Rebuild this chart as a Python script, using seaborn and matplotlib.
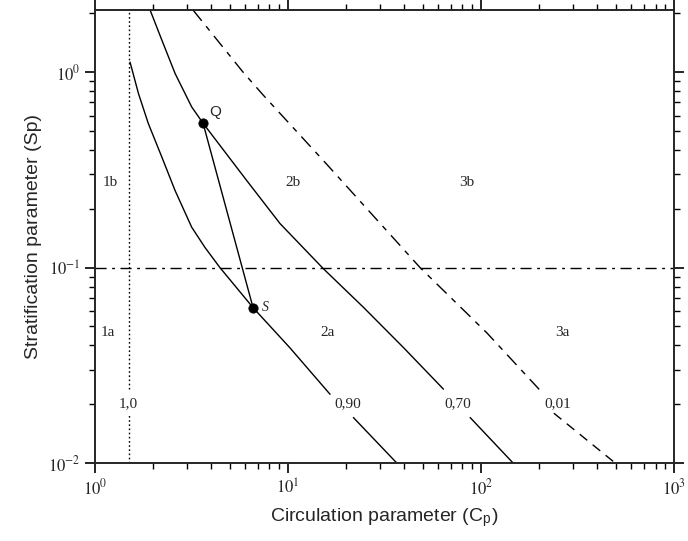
import numpy as np
import pandas as pd
import matplotlib
matplotlib.use("Agg")
import matplotlib.pyplot as plt
from matplotlib.ticker import NullFormatter
import seaborn as sns

# ---- data ----
c90_x = [1.52, 1.68, 1.89, 2.22, 2.60, 3.17, 3.71, 4.44, 6.59, 10.2, 16.5]
c90_y = [1.125, 0.778, 0.546, 0.368, 0.248, 0.161, 0.127, 0.100, 0.0624, 0.039, 0.0225]
c90b_x = [21.8, 36.6]
c90b_y = [0.0171, 0.0100]

c70_x = [1.93, 2.22, 2.60, 3.17, 3.63, 6.11, 9.09, 15.2, 24.6, 39.6, 63.8]
c70_y = [2.08, 1.46, 0.985, 0.664, 0.548, 0.279, 0.168, 0.099, 0.0626, 0.039, 0.0239]
c70b_x = [87.7, 146.5]
c70b_y = [0.0171, 0.0100]

c01_x = [3.22, 5.85, 7.45, 15.2, 48.3, 107.0, 210.0]
c01_y = [2.08, 1.00, 0.762, 0.354, 0.100, 0.0464, 0.0226]
c01b_x = [238.0, 495.0]
c01b_y = [0.0180, 0.0100]

cp_limit = 1.5
sp_limit = 0.1

pts_name = ["Q", "S"]
pts_x = [3.63, 6.59]
pts_y = [0.548, 0.0624]

region_labels = ["1b", "2b", "3b", "1a", "2a", "3a"]
region_x = [1.20, 10.6, 84.6, 1.17, 16.1, 263.0]
region_y = [0.273, 0.273, 0.273, 0.0464, 0.0464, 0.0464]

curve_labels = ["1,0", "0,90", "0,70", "0,01"]
curve_lab_x = [1.48, 20.5, 76.0, 250.0]
curve_lab_y = [0.0201, 0.0201, 0.0201, 0.0201]

x_major = [1, 10, 100, 1000]
x_major_labels = [r"$10^{0}$", r"$10^{1}$", r"$10^{2}$", r"$10^{3}$"]
y_major = [0.01, 0.1, 1]
y_major_labels = [r"$10^{-2}$", r"$10^{-1}$", r"$10^{0}$"]

sns.set_style("ticks")
plt.rcParams["mathtext.fontset"] = "stix"
plt.rcParams["font.family"] = ["Liberation Sans", "DejaVu Sans"]

fig = plt.figure(figsize=(6.88, 5.41), dpi=100)
ax = fig.add_axes([0.138, 0.144, 0.842, 0.8375])

def draw(xs, ys, **kw):
    df = pd.DataFrame({"x": xs, "y": ys})
    sns.lineplot(data=df, x="x", y="y", sort=False, estimator=None, ax=ax,
                 color="black", **kw)

draw(c90_x, c90_y, linewidth=1.0)
draw(c90b_x, c90b_y, linewidth=1.0)
draw(c70_x, c70_y, linewidth=1.0)
draw(c70b_x, c70b_y, linewidth=1.0)
draw(c01_x, c01_y, linewidth=1.0, linestyle=(0, (10, 5, 4, 5)))
draw(c01b_x, c01b_y, linewidth=1.0, linestyle=(0, (7, 5)))
draw(pts_x, pts_y, linewidth=1.0)

# vertical limit line (broken at its label)
draw([cp_limit, cp_limit], [0.01, 0.0178], linewidth=1.0, linestyle=(0, (1.2, 1.8)))
draw([cp_limit, cp_limit], [0.024, 2.08], linewidth=1.0, linestyle=(0, (1.2, 1.8)))
ax.axhline(sp_limit, color="black", linewidth=1.0, linestyle=(0, (8, 4, 2, 4)))

sns.scatterplot(x=pts_x, y=pts_y, ax=ax, color="black", s=45, edgecolor="black", zorder=5)

ax.text(4.19, 0.623, "Q", fontsize=11, family="Liberation Sans", ha="center", va="center")
ax.text(7.6, 0.0624, "S", fontsize=10, family="Liberation Serif", style="italic",
        ha="center", va="center")

for lab, x, y in zip(region_labels, region_x, region_y):
    ax.text(x, y, lab, fontsize=11, family="Liberation Serif", ha="center", va="center")
for lab, x, y in zip(curve_labels, curve_lab_x, curve_lab_y):
    ax.text(x, y, lab, fontsize=11, family="Liberation Serif", ha="center", va="center")

ax.set_xscale("log")
ax.set_yscale("log")

ax.set_xticks(x_major)
ax.set_xticklabels(x_major_labels)
ax.set_yticks(y_major)
ax.set_yticklabels(y_major_labels)
x_minor = [d * 10.0 ** e for e in range(0, 3) for d in range(2, 10)]
y_minor = [d * 10.0 ** e for e in range(-2, 1) for d in range(2, 10)]
ax.set_xticks(x_minor, minor=True)
ax.set_yticks(y_minor, minor=True)
ax.xaxis.set_minor_formatter(NullFormatter())
ax.yaxis.set_minor_formatter(NullFormatter())
ax.set_xlim(1, 1000)
ax.set_ylim(0.01, 2.08)

ax.tick_params(which="both", top=True, right=True, direction="out",
               labelsize=12, color="black")
ax.tick_params(which="major", length=7, width=1.2)
ax.tick_params(which="minor", length=4, width=1.0)
for sp in ax.spines.values():
    sp.set_visible(True)
    sp.set_linewidth(1.4)

ax.set_xlabel(r"Circulation parameter (C$_\mathregular{p}$)", fontsize=14, labelpad=6)
ax.set_ylabel("Stratification parameter (Sp)", fontsize=14, labelpad=4)

fig.savefig("out.png", dpi=100)
